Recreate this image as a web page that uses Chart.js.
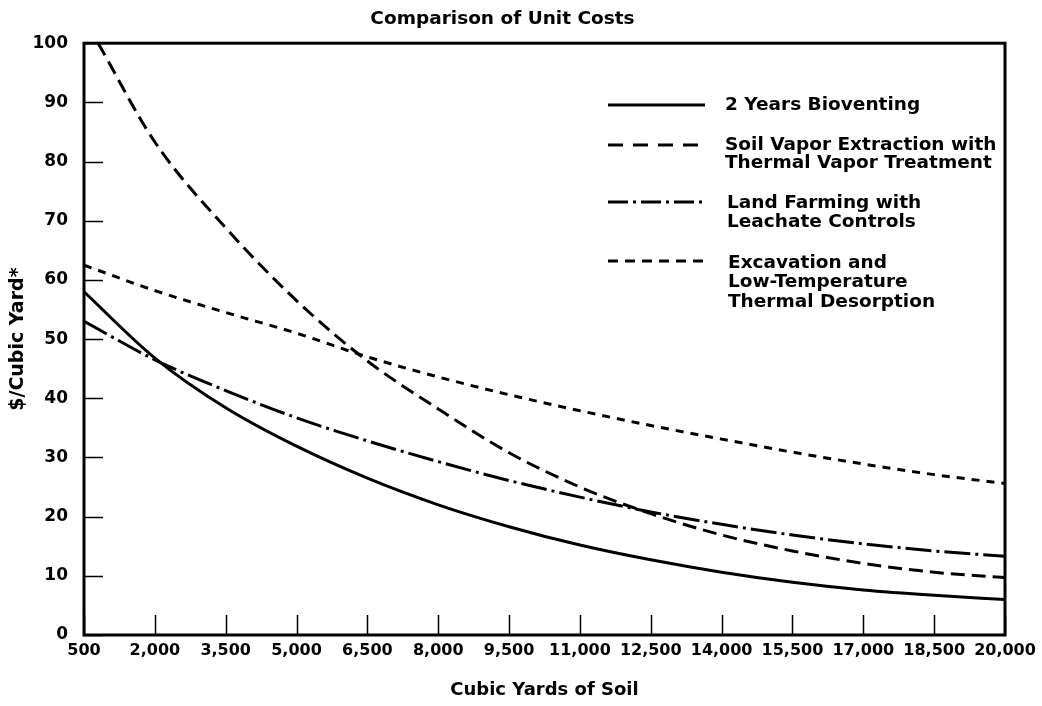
<!DOCTYPE html>
<html>
<head>
<meta charset="utf-8">
<title>Comparison of Unit Costs</title>
<script src="https://cdn.jsdelivr.net/npm/chart.js@4.4.0/dist/chart.umd.min.js"></script>
<style>
  html, body { margin: 0; padding: 0; background: #fff; }
  #caja { width: 1042px; height: 706px; }
</style>
</head>
<body>
<div id="caja"><canvas id="COSTOS"></canvas></div>
<script>
// cubic yards of soil (x ticks and sample points)
var yardas = [500, 2000, 3500, 5000, 6500, 8000, 9500, 11000, 12500, 14000, 15500, 17000, 18500, 20000];
// soil vapor extraction leaves the top of the frame, so it starts a bit later
var yardas_sve = [800, 2000, 3500, 5000, 6500, 8000, 9500, 11000, 12500, 14000, 15500, 17000, 18500, 20000];

var bioventing = [58, 46.8, 38.4, 31.9, 26.5, 22.0, 18.3, 15.2, 12.7, 10.6, 8.9, 7.6, 6.7, 6.0];
var sve = [100, 83.3, 68.8, 56.5, 46.3, 38.2, 30.8, 25.0, 20.5, 16.9, 14.2, 12.1, 10.6, 9.7];
var land_farming = [53, 46.5, 41.3, 36.7, 32.8, 29.3, 26.1, 23.3, 20.8, 18.7, 16.9, 15.4, 14.2, 13.3];
var excavacion = [62.5, 58.2, 54.5, 51.0, 47.0, 43.6, 40.6, 37.9, 35.4, 33.1, 30.9, 28.9, 27.1, 25.6];

var leyendas = [
  ["2 Years Bioventing"],
  ["Soil Vapor Extraction with", "Thermal Vapor Treatment"],
  ["Land Farming with", "Leachate Controls"],
  ["Excavation and", "Low-Temperature", "Thermal Desorption"],
];

var FUENTE = "'DejaVu Sans', 'Liberation Sans', Arial, sans-serif";

function puntos(xs, ys) {
  return ys.map(function (v, i) {
    return { x: xs[i], y: v };
  });
}

// tick marks inside the frame, the frame itself and the legend
var adornos = {
  id: "adornos",
  afterDatasetsDraw: function (chart) {
    var ctx = chart.ctx;
    var a = chart.chartArea;
    var sx = chart.scales.x;
    var sy = chart.scales.y;

    ctx.save();
    ctx.strokeStyle = "#000";
    ctx.setLineDash([]);
    ctx.lineWidth = 1.5;
    ctx.beginPath();
    sy.ticks.forEach(function (t) {
      var py = Math.round(sy.getPixelForValue(t.value)) + 0.5;
      ctx.moveTo(a.left, py);
      ctx.lineTo(a.left + 19, py);
    });
    sx.ticks.forEach(function (t) {
      var px = Math.round(sx.getPixelForValue(t.value)) + 0.5;
      ctx.moveTo(px, a.bottom);
      ctx.lineTo(px, a.bottom - 20);
    });
    ctx.stroke();

    ctx.lineWidth = 3;
    ctx.strokeRect(a.left, a.top, a.right - a.left, a.bottom - a.top);

    // legend: line row, first text row, text row spacing, text x
    var lineas = [105, 145, 202, 261];
    var textos = [105, 145, 203, 263];
    var salto = [0, 18.5, 19, 19.5];
    var margen = [725, 725, 727, 728];
    ctx.font = "bold 18.5px " + FUENTE;
    ctx.fillStyle = "#000";
    ctx.textBaseline = "middle";
    ctx.textAlign = "left";
    chart.data.datasets.forEach(function (ds, i) {
      ctx.lineWidth = ds.borderWidth;
      ctx.setLineDash(ds.leyendaDash || ds.borderDash || []);
      ctx.beginPath();
      ctx.moveTo(608, lineas[i]);
      ctx.lineTo(705, lineas[i]);
      ctx.stroke();
      ctx.setLineDash([]);
      leyendas[i].forEach(function (linea, j) {
        ctx.fillText(linea, margen[i], textos[i] + j * salto[i]);
      });
    });
    ctx.restore();
  },
};

var ctx = document.getElementById("COSTOS").getContext("2d");

var myChart = new Chart(ctx, {
  type: "line",
  data: {
    datasets: [
      {
        label: leyendas[0].join(" "),
        data: puntos(yardas, bioventing),
        borderColor: "#000",
        borderWidth: 3,
      },
      {
        label: leyendas[1].join(" "),
        data: puntos(yardas_sve, sve),
        borderColor: "#000",
        borderWidth: 3,
        borderDash: [14, 7],
        leyendaDash: [15, 10],
      },
      {
        label: leyendas[2].join(" "),
        data: puntos(yardas, land_farming),
        borderColor: "#000",
        borderWidth: 3,
        borderDash: [26, 5, 3, 5],
        leyendaDash: [20, 5, 3, 5],
      },
      {
        label: leyendas[3].join(" "),
        data: puntos(yardas, excavacion),
        borderColor: "#000",
        borderWidth: 3,
        borderDash: [8, 7],
        leyendaDash: [10, 7],
      },
    ],
  },
  options: {
    responsive: true,
    maintainAspectRatio: false,
    animation: false,
    devicePixelRatio: 1,
    layout: {
      padding: { left: 0, right: 37, top: 0, bottom: 0 },
    },
    elements: {
      point: { radius: 0 },
      line: { cubicInterpolationMode: "monotone", fill: false },
    },
    scales: {
      x: {
        type: "linear",
        min: 500,
        max: 20000,
        afterBuildTicks: function (scale) {
          scale.ticks = yardas.map(function (v) {
            return { value: v };
          });
        },
        afterFit: function (scale) {
          scale.height = 71;
        },
        grid: { display: false, drawTicks: false },
        border: { display: false },
        ticks: {
          padding: 6,
          color: "#000",
          maxRotation: 0,
          autoSkip: false,
          font: { family: FUENTE, size: 16, weight: "bold" },
          callback: function (value) {
            return Number(value).toLocaleString("en-US");
          },
        },
        title: {
          display: true,
          text: "Cubic Yards of Soil",
          color: "#000",
          font: { family: FUENTE, size: 18, weight: "bold" },
          padding: { top: 4, bottom: 5 },
        },
      },
      y: {
        min: 0,
        max: 100,
        afterFit: function (scale) {
          scale.width = 84;
        },
        grid: { display: false, drawTicks: false },
        border: { display: false },
        ticks: {
          stepSize: 10,
          padding: 16,
          color: "#000",
          font: { family: FUENTE, size: 17, weight: "bold" },
        },
        title: {
          display: true,
          text: "$/Cubic Yard*",
          color: "#000",
          font: { family: FUENTE, size: 19, weight: "bold" },
          padding: { top: 7, bottom: 0 },
        },
      },
    },
    plugins: {
      legend: { display: false },
      tooltip: { enabled: false },
      title: {
        display: true,
        text: "Comparison of Unit Costs",
        color: "#000",
        font: { family: FUENTE, size: 18.5, weight: "bold" },
        padding: { top: 8, bottom: 13 },
      },
    },
  },
  plugins: [adornos],
});
</script>
</body>
</html>
